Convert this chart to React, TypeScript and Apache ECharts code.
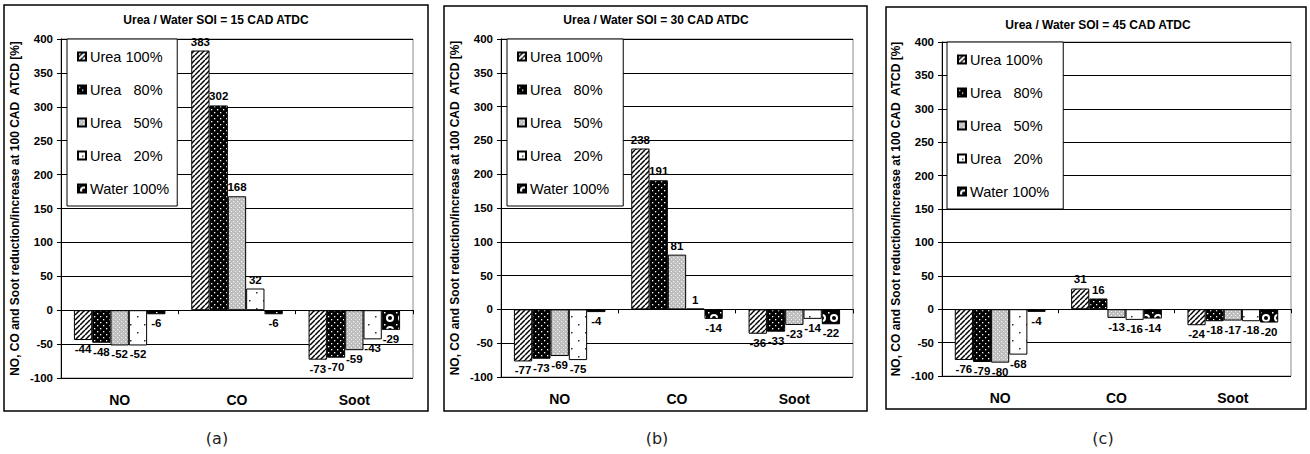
import React, { useEffect, useRef } from 'react';
import * as echarts from 'echarts';

// ---------- data ----------
const categories = ['NO', 'CO', 'Soot'];
const seriesNames = ['Urea 100%', 'Urea   80%', 'Urea   50%', 'Urea   20%', 'Water 100%'];
const panelTitles = [
  'Urea / Water SOI = 15 CAD ATDC',
  'Urea / Water SOI = 30 CAD ATDC',
  'Urea / Water SOI = 45 CAD ATDC',
];
const panelCaptions = ['(a)', '(b)', '(c)'];
const yAxisName = 'NO, CO and Soot reduction/increase at 100 CAD  ATCD [%]';
const yMin = -100;
const yMax = 400;
const yInterval = 50;

// panel (a) SOI = 15 CAD ATDC  [NO, CO, Soot]
const soi15Urea100 = [-44, 383, -73];
const soi15Urea80 = [-48, 302, -70];
const soi15Urea50 = [-52, 168, -59];
const soi15Urea20 = [-52, 32, -43];
const soi15Water100 = [-6, -6, -29];

// panel (b) SOI = 30 CAD ATDC
const soi30Urea100 = [-77, 238, -36];
const soi30Urea80 = [-73, 191, -33];
const soi30Urea50 = [-69, 81, -23];
const soi30Urea20 = [-75, 1, -14];
const soi30Water100 = [-4, -14, -22];

// panel (c) SOI = 45 CAD ATDC
const soi45Urea100 = [-76, 31, -24];
const soi45Urea80 = [-79, 16, -18];
const soi45Urea50 = [-80, -13, -17];
const soi45Urea20 = [-68, -16, -18];
const soi45Water100 = [-4, -14, -20];

const panelData = [
  [soi15Urea100, soi15Urea80, soi15Urea50, soi15Urea20, soi15Water100],
  [soi30Urea100, soi30Urea80, soi30Urea50, soi30Urea20, soi30Water100],
  [soi45Urea100, soi45Urea80, soi45Urea50, soi45Urea20, soi45Water100],
];

// ---------- layout ----------
const panelLayout = [
  { box: [4, 5, 424, 406], grid: [61, 39, 352, 339], legend: [67, 39, 8], title: [216, 20], caption: [217, 438] },
  { box: [444, 6, 423, 405], grid: [501, 39, 352, 338], legend: [507, 39, 14], title: [656, 20], caption: [657, 438] },
  { box: [886, 7, 420, 402], grid: [942, 42, 349, 334], legend: [947, 42, 14], title: [1098, 25], caption: [1103, 438] },
];

const FONT = '"Liberation Sans", Arial, sans-serif';

function makeCanvas(w: number, h: number, draw: (ctx: CanvasRenderingContext2D) => void) {
  const c = document.createElement('canvas');
  c.width = w;
  c.height = h;
  const ctx = c.getContext('2d')!;
  draw(ctx);
  return c;
}

function pat(c: HTMLCanvasElement): any {
  return { image: c, repeat: 'repeat', imageWidth: c.width, imageHeight: c.height };
}

function buildPatterns() {
  const hatch = makeCanvas(5, 5, (ctx) => {
    ctx.fillStyle = '#fff';
    ctx.fillRect(0, 0, 5, 5);
    ctx.strokeStyle = '#000';
    ctx.lineWidth = 1.5;
    for (const k of [-5, 0, 5]) {
      ctx.beginPath();
      ctx.moveTo(k, 5);
      ctx.lineTo(k + 5, 0);
      ctx.stroke();
    }
  });
  const blackDots = makeCanvas(6, 6, (ctx) => {
    ctx.fillStyle = '#000';
    ctx.fillRect(0, 0, 6, 6);
    ctx.fillStyle = '#fff';
    ctx.fillRect(1, 1, 1.3, 1.3);
    ctx.fillRect(4, 4, 1.3, 1.3);
  });
  const grayDots = makeCanvas(4, 4, (ctx) => {
    ctx.fillStyle = '#bdbdbd';
    ctx.fillRect(0, 0, 4, 4);
    ctx.fillStyle = '#f4f4f4';
    ctx.fillRect(1, 1, 1.2, 1.2);
    ctx.fillRect(3, 3, 1.2, 1.2);
  });
  const sparseDots = makeCanvas(14, 16, (ctx) => {
    ctx.fillStyle = '#fff';
    ctx.fillRect(0, 0, 14, 16);
    ctx.fillStyle = '#333';
    ctx.fillRect(4, 4, 1.5, 1.5);
    ctx.fillRect(11, 12, 1.5, 1.5);
  });
  const checker = makeCanvas(12, 12, (ctx) => {
    ctx.fillStyle = '#000';
    ctx.fillRect(0, 0, 12, 12);
    ctx.fillStyle = '#fff';
    ctx.beginPath();
    ctx.arc(6, 6, 4, 0, Math.PI * 2);
    ctx.fill();
    ctx.fillStyle = '#000';
    ctx.beginPath();
    ctx.arc(6, 6, 2, 0, Math.PI * 2);
    ctx.fill();
    ctx.fillStyle = '#fff';
    ctx.fillRect(0, 0, 1.5, 1.5);
  });
  return [pat(hatch), pat(blackDots), pat(grayDots), pat(sparseDots), pat(checker)];
}

export default function App() {
  const ref = useRef<HTMLDivElement>(null);

  useEffect(() => {
    if (!ref.current) return;
    const chart = echarts.init(ref.current, undefined, { renderer: 'svg' });
    const patterns = buildPatterns();

    const grid: any[] = [];
    const xAxis: any[] = [];
    const yAxis: any[] = [];
    const legend: any[] = [];
    const series: any[] = [];
    const graphic: any[] = [];

    panelLayout.forEach((p, i) => {
      const [gx, gy, gw, gh] = p.grid;
      grid.push({
        left: gx, top: gy, width: gw, height: gh,
        show: true, borderColor: '#8c8c8c', borderWidth: 1, backgroundColor: '#fff',
      });
      xAxis.push({
        type: 'category', gridIndex: i, data: categories, position: 'bottom',
        axisLine: { show: false, onZero: false },
        axisTick: { show: false },
        axisLabel: { color: '#000', fontFamily: FONT, fontWeight: 'bold', fontSize: 14, margin: 15 },
      });
      xAxis.push({
        type: 'category', gridIndex: i, data: categories, position: 'top',
        axisLine: { show: true, onZero: true, lineStyle: { color: '#000', width: 1 } },
        axisTick: { show: true, inside: true, length: 4, lineStyle: { color: '#000' } },
        axisLabel: { show: false },
      });
      yAxis.push({
        type: 'value', gridIndex: i, min: yMin, max: yMax, interval: yInterval,
        name: yAxisName, nameLocation: 'middle', nameGap: 40,
        nameTextStyle: { color: '#000', fontFamily: FONT, fontWeight: 'bold', fontSize: 12 },
        axisLine: { show: true, lineStyle: { color: '#000', width: 1 } },
        axisTick: { show: true, length: 4, lineStyle: { color: '#000' } },
        axisLabel: { color: '#000', fontFamily: FONT, fontWeight: 'bold', fontSize: 11.5, margin: 8 },
        splitLine: { show: true, lineStyle: { color: '#000', width: 1 } },
      });
      legend.push({
        orient: 'vertical', left: p.legend[0], top: p.legend[1],
        padding: [10, p.legend[2], 10, 10],
        data: seriesNames, icon: 'rect', itemWidth: 8, itemHeight: 8, itemGap: 18,
        backgroundColor: '#fff', borderColor: '#000', borderWidth: 1,
        textStyle: { color: '#000', fontFamily: FONT, fontSize: 14.5, lineHeight: 14, padding: [0, 0, 0, -1] },
        selectedMode: false, z: 10,
      });
      seriesNames.forEach((name, k) => {
        series.push({
          type: 'bar', name, xAxisIndex: i * 2, yAxisIndex: i,
          data: panelData[i][k].map((v) => ({
            value: v,
            label: { position: v >= 0 ? 'top' : 'bottom' },
          })),
          barGap: '0%', barCategoryGap: '22%',
          itemStyle: { color: patterns[k], borderColor: '#000', borderWidth: 1 },
          label: {
            show: true, distance: 3, color: '#000', fontFamily: FONT, fontWeight: 'bold', fontSize: 11.5,
          },
        });
      });
      const [bx, by, bw, bh] = p.box;
      graphic.push({
        type: 'rect', shape: { x: bx, y: by, width: bw, height: bh },
        style: { fill: 'none', stroke: '#000', lineWidth: 1.5 }, z: 100,
      });
      graphic.push({
        type: 'text', x: p.title[0], y: p.title[1],
        style: {
          text: panelTitles[i], fill: '#000', font: `bold 12px ${FONT}`,
          textAlign: 'center', textVerticalAlign: 'middle',
        },
      });
      graphic.push({
        type: 'text', x: p.caption[0], y: p.caption[1],
        style: {
          text: panelCaptions[i], fill: '#222', font: '16px "DejaVu Sans", Verdana, sans-serif',
          textAlign: 'center', textVerticalAlign: 'middle',
        },
      });
    });

    chart.setOption({
      animation: false,
      backgroundColor: '#fff',
      grid, xAxis, yAxis, legend, series, graphic,
    });
    return () => chart.dispose();
  }, []);

  return (
    <div
      ref={ref}
      style={{ position: 'absolute', left: 0, top: 0, width: 1310, height: 454, background: '#fff' }}
    />
  );
}
